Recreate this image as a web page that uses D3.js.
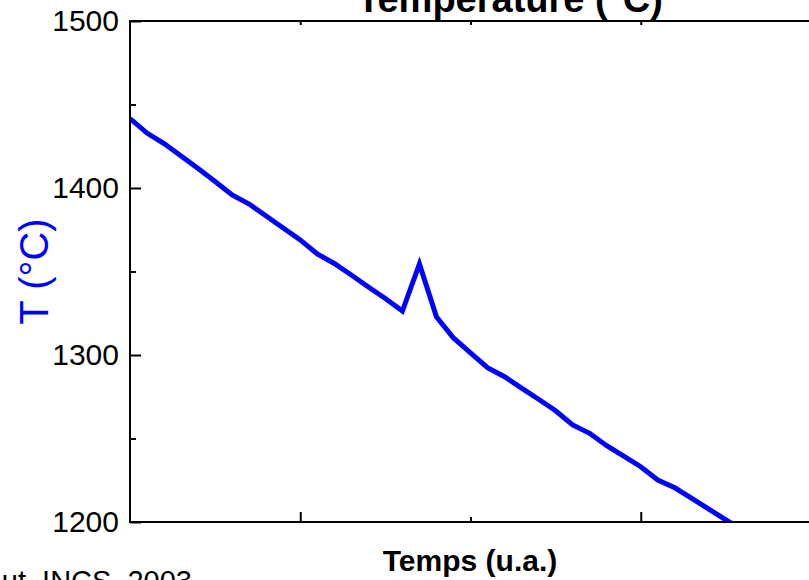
<!DOCTYPE html>
<html>
<head>
<meta charset="utf-8">
<script src="https://cdn.jsdelivr.net/npm/d3@7"></script>
<style>
  html, body { margin: 0; padding: 0; background: #fff; }
  svg { display: block; font-family: Arial, "Liberation Sans", sans-serif; }
</style>
</head>
<body>
<svg id="chart" width="809" height="580"></svg>
<script>
// Time axis (arbitrary units) and measured temperature, °C
const timeValues = [0.50, 0.55, 0.60, 0.65, 0.70, 0.75, 0.80, 0.85, 0.90, 0.95,
                    1.00, 1.05, 1.10, 1.15, 1.20, 1.25, 1.30, 1.35, 1.40, 1.45,
                    1.50, 1.55, 1.60, 1.65, 1.70, 1.75, 1.80, 1.85, 1.90, 1.95,
                    2.00, 2.05, 2.10, 2.15, 2.20, 2.25, 2.30];
const tempValues = [1441.6, 1432.9, 1426.6, 1419.2, 1411.7, 1403.9, 1395.8, 1390.4, 1383.2, 1376.0,
                    1368.9, 1360.5, 1354.8, 1347.9, 1340.7, 1333.8, 1326.3, 1354.5, 1322.9, 1310.2,
                    1301.3, 1292.4, 1287.0, 1280.2, 1273.5, 1266.6, 1258.1, 1253.1, 1245.7, 1239.4,
                    1233.1, 1225.1, 1220.5, 1214.1, 1207.7, 1201.3, 1195.0];

const yMajorTicks = [1200, 1300, 1400, 1500];
const yMinorTicks = [1250, 1350, 1450];
const xMajorTicks = [1.0, 2.0];
const xMinorTicks = [1.5];

const titleText = "Température (°C)";
const xLabelText = "Temps (u.a.)";
const yLabelText = "T (°C)";
const sourceText = "ut, INCS, 2003";

const svg = d3.select("#chart");
const plotLeft = 130, plotTop = 21, plotRight = 811, plotBottom = 522;

const x = d3.scaleLinear().domain([0.5, 2.5]).range([plotLeft, plotRight]);
const y = d3.scaleLinear().domain([1200, 1500]).range([plotBottom, plotTop]);

// clip the curve to the plot frame
svg.append("defs").append("clipPath").attr("id", "plotClip")
  .append("rect").attr("x", plotLeft).attr("y", plotTop)
  .attr("width", plotRight - plotLeft).attr("height", plotBottom - plotTop);

const data = timeValues.map((t, i) => ({ t, T: tempValues[i] }));

svg.append("path")
  .datum(data)
  .attr("clip-path", "url(#plotClip)")
  .attr("fill", "none")
  .attr("stroke", "#0000ff")
  .attr("stroke-width", 5)
  .attr("stroke-linejoin", "miter")
  .attr("d", d3.line().x(d => x(d.t)).y(d => y(d.T)));

// Shared tick styling
const styleAxis = g => {
  g.selectAll("line").attr("stroke", "#000").attr("stroke-width", 2);
  g.selectAll("path.domain").remove();
};

// Left axis: major ticks with labels, minor ticks, all pointing inward
svg.append("g")
  .attr("transform", `translate(${plotLeft},0)`)
  .call(d3.axisLeft(y).tickValues(yMajorTicks).tickSize(-11).tickPadding(11)
        .tickFormat(d3.format("d")))
  .call(styleAxis)
  .call(g => g.selectAll("text").attr("font-size", 30).attr("fill", "#000")
                .attr("font-family", "Arial, 'Liberation Sans', sans-serif"));

svg.append("g")
  .attr("transform", `translate(${plotLeft},0)`)
  .call(d3.axisLeft(y).tickValues(yMinorTicks).tickSize(-6).tickFormat(""))
  .call(styleAxis);

// Bottom axis: ticks only, pointing inward
svg.append("g")
  .attr("transform", `translate(0,${plotBottom})`)
  .call(d3.axisBottom(x).tickValues(xMajorTicks).tickSize(-10).tickFormat(""))
  .call(styleAxis);

svg.append("g")
  .attr("transform", `translate(0,${plotBottom})`)
  .call(d3.axisBottom(x).tickValues(xMinorTicks).tickSize(-5).tickFormat(""))
  .call(styleAxis);

// Top axis: short inward ticks
svg.append("g")
  .attr("transform", `translate(0,${plotTop})`)
  .call(d3.axisTop(x).tickValues(xMajorTicks.concat(xMinorTicks)).tickSize(-4).tickFormat(""))
  .call(styleAxis);

// Frame
svg.append("path")
  .attr("fill", "none")
  .attr("stroke", "#000")
  .attr("stroke-width", 2)
  .attr("d", `M${plotRight},${plotTop}H${plotLeft}V${plotBottom}H${plotRight}`);

// Title
svg.append("text")
  .attr("x", 510).attr("y", 12)
  .attr("text-anchor", "middle")
  .attr("font-size", 38).attr("font-weight", "bold")
  .attr("fill", "#000")
  .text(titleText);

// Axis labels
svg.append("text")
  .attr("x", 470).attr("y", 571)
  .attr("text-anchor", "middle")
  .attr("font-size", 30).attr("font-weight", "bold")
  .attr("fill", "#000")
  .text(xLabelText);

svg.append("text")
  .attr("transform", "translate(48,271.5) rotate(-90)")
  .attr("text-anchor", "middle")
  .attr("font-size", 40)
  .attr("fill", "#0000ff")
  .text(yLabelText);

// Source note
svg.append("text")
  .attr("x", 192).attr("y", 591)
  .attr("text-anchor", "end")
  .attr("font-size", 29)
  .attr("fill", "#000")
  .text(sourceText);
</script>
</body>
</html>
